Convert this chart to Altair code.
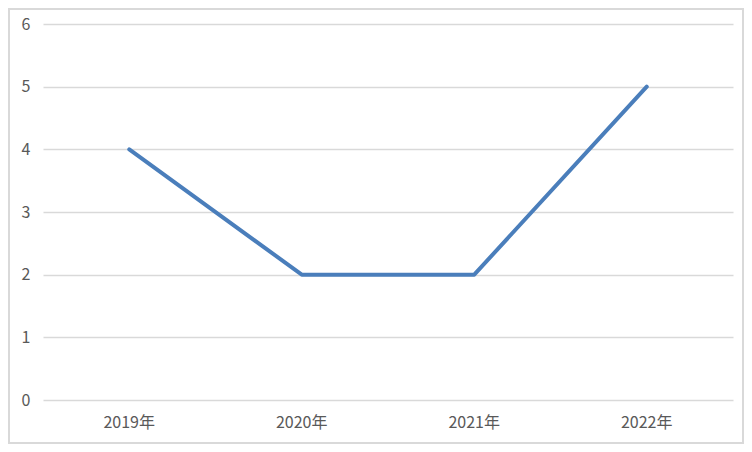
import altair as alt
import pandas as pd

years = ["2019年", "2020年", "2021年", "2022年"]
values = [4, 2, 2, 5]

df = pd.DataFrame({"year": years, "value": values})

FONT = "Noto Sans CJK SC"
W, H = 690, 376
PAD = {"left": 35, "top": 16, "right": 11, "bottom": 44}

line = alt.Chart(df).mark_line(color="#4a7ebb", strokeWidth=4, strokeCap="round", strokeJoin="round").encode(
    x=alt.X("year:N", sort=years, title=None,
            scale=alt.Scale(type="band", paddingInner=0, paddingOuter=0),
            axis=alt.Axis(labelAngle=0, domain=False, ticks=False, grid=False,
                          labelPadding=14, labelFontSize=16, labelColor="#595959",
                          labelFont=FONT)),
    y=alt.Y("value:Q", title=None,
            scale=alt.Scale(domain=[0, 6], nice=False),
            axis=alt.Axis(values=[0, 1, 2, 3, 4, 5, 6], domain=False, ticks=False,
                          gridColor="#d9d9d9", gridWidth=1.5, labelPadding=13,
                          labelFontSize=16, labelColor="#595959", labelFont=FONT)),
)

border = alt.Chart(df).mark_rect(fill=None, stroke="#d9d9d9", strokeWidth=2).encode(
    x=alt.value(-PAD["left"] + 1), x2=alt.value(W + PAD["right"] - 1),
    y=alt.value(-PAD["top"] + 1), y2=alt.value(H + PAD["bottom"] - 1),
)

chart = alt.layer(border, line).properties(
    width=W, height=H, padding=PAD, autosize=alt.AutoSizeParams(type="none"),
    background="white",
).configure_view(stroke=None)

chart.save("out.html", embed_options={"renderer": "svg", "actions": False})
